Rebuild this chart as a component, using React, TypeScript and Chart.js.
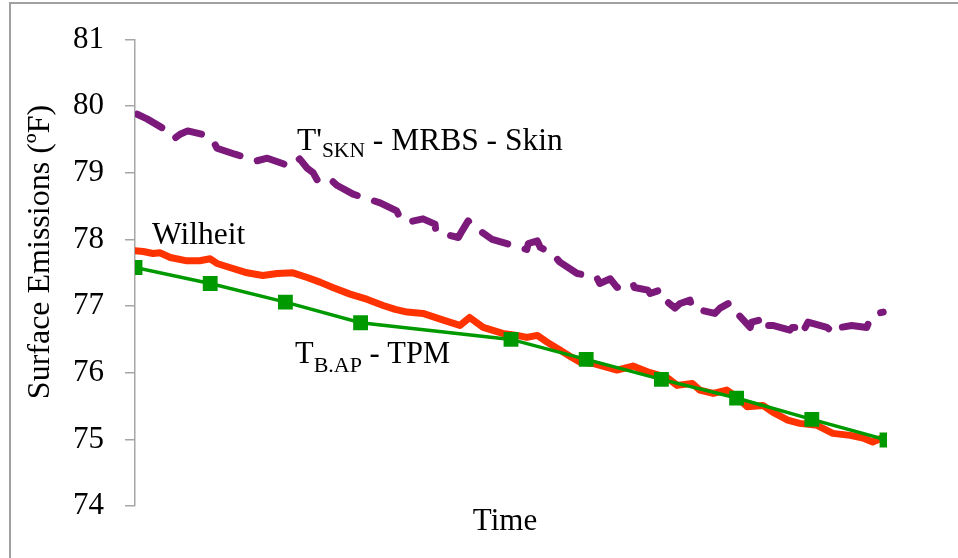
import React, { useEffect, useRef } from "react";
import { Chart, registerables } from "chart.js";

Chart.register(...registerables);

// ---- Data (time in % of the record, temperature in ºF) ----
const tpmTime = [0, 10, 20, 30, 50, 60, 70, 80, 90, 100];
const tpmValues = [77.58, 77.34, 77.06, 76.75, 76.5, 76.2, 75.9, 75.62, 75.3, 74.99];

const wilheitTime = [
  0, 1.1, 2.4, 3.3, 4.7, 6.9, 8.6, 10, 10.9, 12.6, 14.9, 17.0, 18.9, 21.0, 22.9, 24.6, 26.3,
  28.6, 30.9, 33.0, 34.6, 36.2, 38.3, 41.0, 43.2, 44.5, 46.3, 48.9, 50.8, 52.1, 53.5, 54.8,
  56.5, 58.1, 59.2, 60.9, 62.2, 64.1, 66.2, 68.5, 70.7, 72.1, 74.1, 75.1, 76.9, 78.7, 80.1,
  81.4, 83.5, 84.8, 86.8, 88.4, 90.7, 92.8, 95.1, 96.8, 98.1, 99.7,
];
const wilheitValues = [
  77.83, 77.82, 77.79, 77.8, 77.73, 77.68, 77.68, 77.71, 77.64, 77.58, 77.5, 77.46, 77.49,
  77.5, 77.43, 77.36, 77.28, 77.18, 77.1, 77.01, 76.95, 76.91, 76.89, 76.79, 76.71, 76.83,
  76.68, 76.59, 76.56, 76.53, 76.56, 76.46, 76.34, 76.23, 76.16, 76.14, 76.1, 76.04, 76.1,
  76.0, 75.93, 75.81, 75.84, 75.74, 75.69, 75.74, 75.63, 75.49, 75.51, 75.41, 75.29, 75.24,
  75.21, 75.09, 75.06, 75.02, 74.96, 75.04,
];

const skinTime = [
  0.3, 1.6, 4.3, 5.3, 6.0, 7.0, 8.9, 10.4, 10.9, 13.3, 16.2, 17.6, 20.6, 21.9, 22.9, 23.7,
  24.3, 25.9, 26.9, 29.0, 32.6, 34.8, 35.2, 36.3, 38.3, 39.9, 40.0, 41.5, 43.0, 43.5, 44.3,
  45.5, 47.5, 52.1, 52.3, 53.5, 53.9, 55.5, 56.5, 58.8, 61.4, 61.8, 63.2, 64.1, 66.2, 66.4,
  68.2, 68.5, 69.8, 70.2, 71.8, 72.5, 73.8, 74.1, 77.1, 77.8, 78.9, 79.1, 80.1, 81.8, 82.0,
  83.1, 83.8, 83.9, 84.8, 87.1, 87.4, 88.4, 88.7, 89.5, 92.0, 93.1, 93.8, 95.3, 97.3, 97.7,
  98.7, 99.5,
];
const skinValues = [
  79.88, 79.81, 79.63, 79.52, 79.58, 79.63, 79.58, 79.48, 79.37, 79.28, 79.18, 79.22, 79.1,
  79.21, 79.07, 79.0, 78.88, 78.91, 78.81, 78.68, 78.55, 78.43, 78.33, 78.26, 78.31, 78.23,
  78.13, 78.07, 78.03, 78.13, 78.28, 78.16, 78.0, 77.85, 77.94, 77.98, 77.88, 77.79, 77.66,
  77.49, 77.43, 77.34, 77.41, 77.28, 77.34, 77.28, 77.24, 77.19, 77.24, 77.12, 76.97, 77.04,
  77.09, 76.97, 76.89, 76.97, 77.04, 76.97, 76.89, 76.68, 76.76, 76.79, 76.83, 76.71, 76.71,
  76.64, 76.68, 76.68, 76.59, 76.76, 76.68, 76.59, 76.68, 76.71, 76.68, 76.79, 76.89, 76.91,
];

const yMin = 74;
const yMax = 81;
const yStep = 1;
const yAxisTitle = "Surface Emissions (ºF)";
const xAxisTitle = "Time";

const FONT = '"Liberation Serif", "Times New Roman", serif';

const toPoints = (xs: number[], ys: number[]) => xs.map((x, i) => ({ x, y: ys[i] }));

const textPlugin = {
  id: "seriesTexts",
  afterDraw(chart: any) {
    const ctx: CanvasRenderingContext2D = chart.ctx;
    ctx.save();
    ctx.fillStyle = "#000";
    ctx.textBaseline = "alphabetic";
    ctx.textAlign = "left";
    const run = (x: number, y: number, parts: { t: string; size: number; dy?: number }[]) => {
      let cx = x;
      for (const p of parts) {
        ctx.font = `${p.size}px ${FONT}`;
        ctx.fillText(p.t, cx, y + (p.dy || 0));
        cx += ctx.measureText(p.t).width;
      }
    };
    run(297, 150, [
      { t: "T'", size: 31.5 },
      { t: "SKN", size: 21.5, dy: 7 },
      { t: " - MRBS - Skin", size: 31.5 },
    ]);
    run(152, 244, [{ t: "Wilheit", size: 31.5 }]);
    run(295, 363, [
      { t: "T", size: 30.5 },
      { t: "B.AP", size: 22, dy: 9 },
      { t: " - TPM", size: 30.5 },
    ]);
    ctx.font = `31px ${FONT}`;
    ctx.textAlign = "center";
    ctx.fillText(xAxisTitle, 505, 530);
    ctx.font = `32px ${FONT}`;
    ctx.translate(49, 252);
    ctx.rotate(-Math.PI / 2);
    ctx.fillText(yAxisTitle, 0, 0);
    ctx.restore();
  },
};

export default function App() {
  const ref = useRef<HTMLCanvasElement | null>(null);
  useEffect(() => {
    if (!ref.current) return;
    const chart = new Chart(ref.current, {
      type: "line",
      data: {
        datasets: [
          {
            label: "TB.AP - TPM",
            data: toPoints(tpmTime, tpmValues),
            borderColor: "#009a00",
            backgroundColor: "#009a00",
            borderWidth: 3.5,
            pointStyle: "rect",
            pointRadius: 10.5,
            pointBorderWidth: 0,
            tension: 0,
          },
          {
            label: "Wilheit",
            data: toPoints(wilheitTime, wilheitValues),
            borderColor: "#ff3300",
            borderWidth: 7,
            pointRadius: 0,
            borderJoinStyle: "round",
            borderCapStyle: "round",
            tension: 0,
          },
          {
            label: "T'SKN - MRBS - Skin",
            data: toPoints(skinTime, skinValues),
            borderColor: "#7b1a7b",
            borderWidth: 7,
            borderDash: [28, 18],
            borderJoinStyle: "round",
            borderCapStyle: "round",
            pointRadius: 0,
            tension: 0,
          },
        ],
      },
      options: {
        responsive: false,
        animation: false,
        devicePixelRatio: 1,
        layout: { padding: { left: 0, right: 71, top: 38, bottom: 52 } },
        plugins: { legend: { display: false }, tooltip: { enabled: false } },
        scales: {
          x: { type: "linear", min: 0, max: 100, display: false },
          y: {
            min: yMin,
            max: yMax,
            ticks: {
              stepSize: yStep,
              color: "#000",
              font: { family: FONT, size: 31 },
              padding: 21,
            },
            grid: {
              drawOnChartArea: false,
              drawTicks: true,
              tickLength: 10,
              color: "#a6a6a6",
              lineWidth: 1.5,
            },
            border: { display: true, color: "#a6a6a6", width: 1.5 },
            afterFit: (s: any) => {
              s.width = 135;
            },
          },
        },
      },
      plugins: [textPlugin],
    } as any);
    return () => chart.destroy();
  }, []);

  return (
    <div
      style={{
        position: "fixed",
        left: 0,
        top: 0,
        width: 958,
        height: 558,
        overflow: "hidden",
        background: "#fff",
      }}
    >
      <div
        style={{
          position: "absolute",
          left: 9,
          top: 2,
          width: 1000,
          height: 600,
          borderTop: "2px solid #a0a0a0",
          borderLeft: "2px solid #a0a0a0",
        }}
      />
      <canvas
        ref={ref}
        width={958}
        height={558}
        style={{ position: "absolute", left: 0, top: 0, display: "block" }}
      />
    </div>
  );
}
